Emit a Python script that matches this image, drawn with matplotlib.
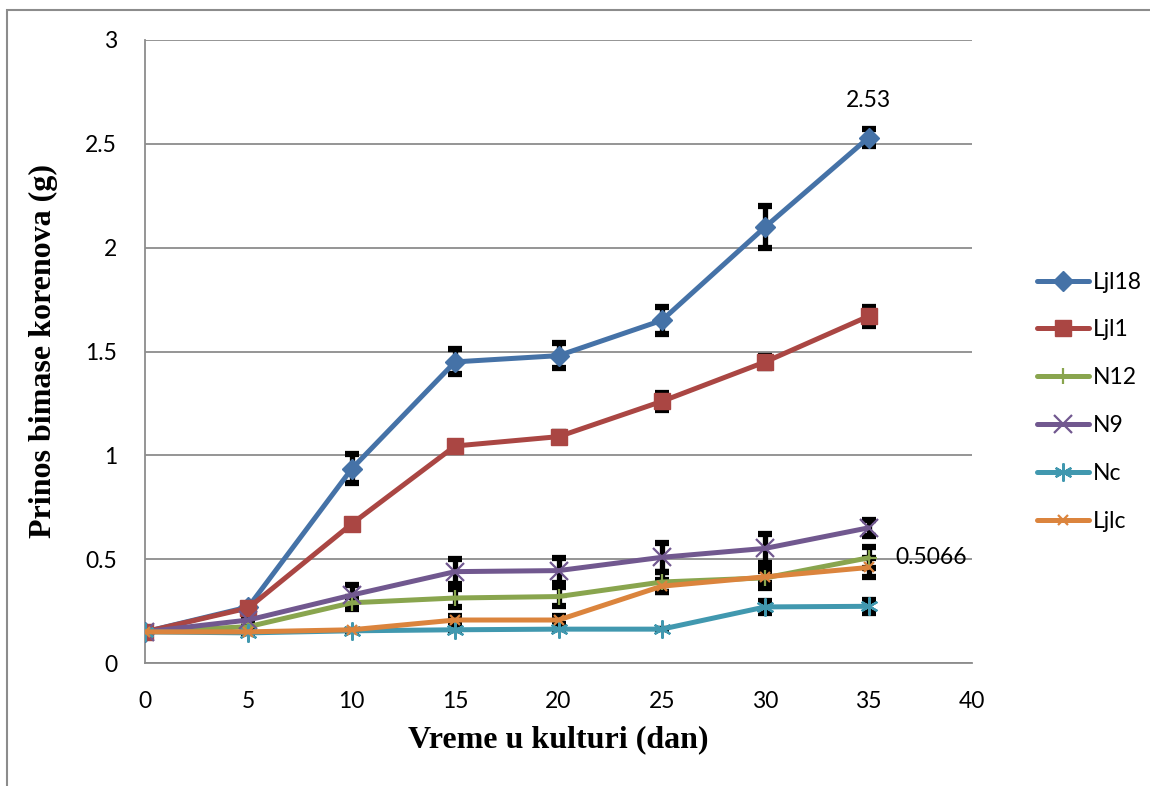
import matplotlib
matplotlib.use("Agg")
import matplotlib.pyplot as plt
from matplotlib.patches import Rectangle

days = [0, 5, 10, 15, 20, 25, 30, 35]
series_names = ["Ljl18", "Ljl1", "N12", "N9", "Nc", "Ljlc"]
ljl18 = [0.15, 0.27, 0.935, 1.45, 1.48, 1.65, 2.10, 2.53]
ljl1 = [0.15, 0.265, 0.67, 1.045, 1.09, 1.26, 1.45, 1.67]
n12 = [0.15, 0.175, 0.29, 0.313, 0.32, 0.39, 0.41, 0.5066]
n9 = [0.15, 0.207, 0.327, 0.44, 0.445, 0.509, 0.552, 0.651]
nc = [0.15, 0.145, 0.155, 0.16, 0.163, 0.163, 0.27, 0.273]
ljlc = [0.15, 0.15, 0.16, 0.207, 0.207, 0.37, 0.415, 0.46]

err_ljl18 = [0, 0, 0.07, 0.06, 0.06, 0.065, 0.10, 0.04]
err_ljl1 = [0, 0, 0, 0, 0.02, 0.04, 0.03, 0.045]
err_n12 = [0, 0, 0.03, 0.045, 0.045, 0.05, 0.05, 0.05]
err_n9 = [0, 0, 0.05, 0.06, 0.06, 0.07, 0.07, 0.04]
err_nc = [0, 0, 0, 0, 0, 0, 0.03, 0.03]
err_ljlc = [0, 0, 0, 0.02, 0.02, 0.03, 0.03, 0.045]

y_ticks = [0, 0.5, 1, 1.5, 2, 2.5, 3]
y_ticklabels = ["0", "0.5", "1", "1.5", "2", "2.5", "3"]
x_ticks = [0, 5, 10, 15, 20, 25, 30, 35, 40]

colors = ["#4572A7", "#AA4643", "#89A54E", "#71588F", "#4198AF", "#DB843D"]
markers = ["D", "s", "+", "x", (6, 2, 0), "x"]
msizes = [10, 11, 11, 13, 13, 7]
values = [ljl18, ljl1, n12, n9, nc, ljlc]
errors = [err_ljl18, err_ljl1, err_n12, err_n9, err_nc, err_ljlc]

fig = plt.figure(figsize=(11.5, 7.86), dpi=100)
ax = fig.add_axes([145/1150, 1-663/786, (972-145)/1150, (663-40)/786])

lbl_font = "Lato"

for name, vals, errs, c, m, ms in zip(series_names, values, errors, colors, markers, msizes):
    ax.errorbar(days, vals, yerr=errs, fmt="none", ecolor="black", elinewidth=3.8,
                capsize=5, capthick=4.5, zorder=2)
    ax.plot(days, vals, color=c, lw=3.6, marker=m, markersize=ms,
            markeredgecolor=c, markerfacecolor=c,
            markeredgewidth=1.6 if m not in ("D", "s") else 1,
            label=name, zorder=3, solid_capstyle="round")

ax.annotate("2.53", xy=(days[-1], ljl18[-1]), xytext=(0, 27), textcoords="offset points",
            ha="center", va="center", fontsize=16.5, family=lbl_font)
ax.annotate("0.5066", xy=(days[-1], n12[-1]), xytext=(19, 0), textcoords="offset points",
            ha="left", va="center", fontsize=16.5, family=lbl_font)

ax.set_xlim(0, 40)
ax.set_ylim(0, 3)
ax.set_xticks(x_ticks)
ax.set_yticks(y_ticks)
ax.set_yticklabels(y_ticklabels)
ax.tick_params(axis="both", length=0, labelsize=16.5)
ax.tick_params(axis="y", pad=20)
ax.tick_params(axis="x", pad=20)
for lab in ax.get_xticklabels() + ax.get_yticklabels():
    lab.set_family(lbl_font)

ax.grid(axis="y", color="#8c8c8c", lw=1.3)
ax.set_axisbelow(True)
for s in ["top", "right"]:
    ax.spines[s].set_visible(False)
for s in ["left", "bottom"]:
    ax.spines[s].set_color("#8c8c8c")
    ax.spines[s].set_linewidth(1.3)

ax.set_xlabel("Vreme u kulturi (dan)", fontsize=23, fontweight="bold",
              family="Liberation Serif", labelpad=10)
ax.set_ylabel("Prinos bimase korenova (g)", fontsize=23, fontweight="bold",
              family="Liberation Serif", labelpad=20)

leg = fig.legend(loc="upper left", bbox_to_anchor=(1016/1150, 1-251/786), frameon=False,
                 prop={"family": lbl_font, "size": 16.5}, handlelength=2.3,
                 handletextpad=0.15, labelspacing=1.17)

fig.add_artist(Rectangle((7/1150, -0.05), 1.2, 1-10/786+0.05, transform=fig.transFigure,
                         fill=False, edgecolor="#8c8c8c", lw=1.5))

fig.savefig("out.png", dpi=100)
